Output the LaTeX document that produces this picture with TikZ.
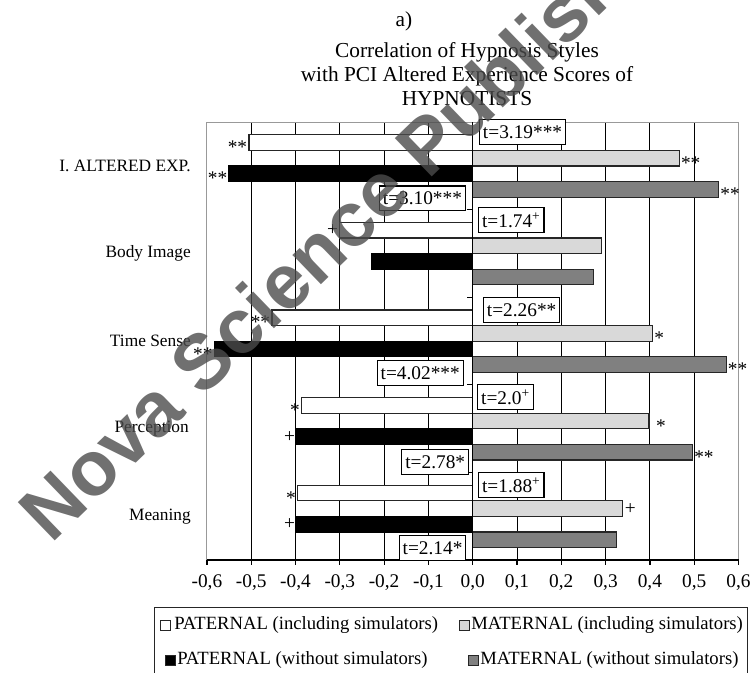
\documentclass[tikz,border=0pt]{standalone}
\usepackage{fontspec}
\setmainfont{Liberation Serif}
\newfontfamily\wmfont{Liberation Sans}
\tikzstyle{gridline} = [black, line width=0.75pt]
\tikzstyle{plotframe} = [draw=black!40, line width=0.75pt]
\tikzstyle{axisline} = [black, line width=0.9pt]
\tikzstyle{whitebar} = [draw=black!85, fill=white, line width=0.9pt]
\tikzstyle{lightbar} = [draw=black!85, fill=black!15, line width=0.9pt]
\tikzstyle{blackbar} = [draw=black, fill=black, line width=0.9pt]
\tikzstyle{darkbar} = [draw=black!85, fill=black!50, line width=0.9pt]
\tikzstyle{tbox} = [rectangle, draw=black, fill=white, line width=0.9pt, inner xsep=2.6pt, inner ysep=0pt, minimum height=18.5pt, font=\fontsize{14.5}{16}\selectfont]
\tikzstyle{sigleft} = [anchor=east, inner sep=1.2pt, font=\fontsize{14.5}{16}\selectfont]
\tikzstyle{sigright} = [anchor=west, inner sep=1.2pt, font=\fontsize{14.5}{16}\selectfont]
\tikzstyle{stars} = [yshift=-3.5pt]
\tikzstyle{category} = [anchor=east, inner sep=0pt, font=\fontsize{13}{15}\selectfont]
\tikzstyle{ticklabel} = [inner sep=0pt, font=\fontsize{14.5}{16}\selectfont]
\tikzstyle{legendtext} = [anchor=west, inner sep=0pt, font=\fontsize{14}{16}\selectfont]
\tikzstyle{legendkey} = [draw=black!85, line width=0.75pt]
\begin{document}
\begin{tikzpicture}[x=0.75pt, y=-0.75pt]
  \useasboundingbox (0,0) rectangle (750,672);
  \clip (0,0) rectangle (750,672);

  \node (part) [font=\fontsize{16}{18}\selectfont] at (404,21) {a)};
  \node (title) [align=center, font=\fontsize{16}{18}\selectfont] at (467,74) {Correlation of Hypnosis Styles\\with PCI Altered Experience Scores of\\HYPNOTISTS};

  \begin{scope}[shift={(472.7,122)}, x=332.25pt]
    \foreach \i in {-5,...,5} \draw [gridline] ({\i/10},0) -- ({\i/10},438);
    \draw [plotframe] (-0.6,0) rectangle (0.6,438);

    \draw [whitebar] (0,12.8) rectangle (-0.505,28.4);
    \draw [lightbar] (0,28.4) rectangle (0.466,44.0);
    \draw [blackbar] (0,44.0) rectangle (-0.55,59.6);
    \draw [darkbar] (0,59.6) rectangle (0.555,75.2);
    \draw [whitebar] (0,100.4) rectangle (-0.30,116.0);
    \draw [lightbar] (0,116.0) rectangle (0.29,131.6);
    \draw [blackbar] (0,131.6) rectangle (-0.228,147.2);
    \draw [darkbar] (0,147.2) rectangle (0.272,162.8);
    \draw [whitebar] (0,188.0) rectangle (-0.453,203.6);
    \draw [lightbar] (0,203.6) rectangle (0.406,219.2);
    \draw [blackbar] (0,219.2) rectangle (-0.583,234.8);
    \draw [darkbar] (0,234.8) rectangle (0.572,250.4);
    \draw [whitebar] (0,275.6) rectangle (-0.386,291.2);
    \draw [lightbar] (0,291.2) rectangle (0.398,306.8);
    \draw [blackbar] (0,306.8) rectangle (-0.397,322.4);
    \draw [darkbar] (0,322.4) rectangle (0.496,338.0);
    \draw [whitebar] (0,363.2) rectangle (-0.395,378.8);
    \draw [lightbar] (0,378.8) rectangle (0.339,394.4);
    \draw [blackbar] (0,394.4) rectangle (-0.397,410.0);
    \draw [darkbar] (0,410.0) rectangle (0.325,425.6);

    \draw [axisline] (0,0) -- (0,438);
    \foreach \k in {1,...,5} \draw [axisline] (0,{87.6*\k}) -- ++(-4.5pt,0);
    \draw [axisline] (-0.6,438) -- (0.6,438);
    \foreach \i in {-6,...,6} \draw [axisline] ({\i/10},438) -- ++(0,5);
    \foreach \i/\lab in {0/{-0,6},1/{-0,5},2/{-0,4},3/{-0,3},4/{-0,2},5/{-0,1},6/{0,0},7/{0,1},8/{0,2},9/{0,3},10/{0,4},11/{0,5},12/{0,6}}
      \node (tick\i) [ticklabel] at ({(\i-6)/10},461) {\lab};

    \node (s1) [sigleft, stars] at (-0.505,20.6) {**};
    \node (s2) [sigright, stars] at (0.466,36.2) {**};
    \node (s3) [sigleft, stars] at (-0.55,51.8) {**};
    \node (s4) [sigright, stars] at (0.555,67.4) {**};
    \node (s5) [sigleft] at (-0.30,108.2) {+};
    \node (s6) [sigleft, stars] at (-0.453,195.8) {**};
    \node (s7) [sigright, stars] at (0.406,211.4) {*};
    \node (s8) [sigleft, stars] at (-0.583,227.0) {**};
    \node (s9) [sigright, stars] at (0.572,242.6) {**};
    \node (s10) [sigleft, stars] at (-0.386,283.4) {*};
    \node (s11) [sigright, stars, xshift=4pt] at (0.398,299.0) {*};
    \node (s12) [sigleft] at (-0.397,314.6) {+};
    \node (s13) [sigright, stars] at (0.496,330.2) {**};
    \node (s14) [sigleft, stars] at (-0.395,371.0) {*};
    \node (s15) [sigright] at (0.339,386.6) {+};
    \node (s16) [sigleft] at (-0.397,402.2) {+};

    \node (t1) [tbox, anchor=west] at (0.014,9.8) {t=3.19***};
    \node (t2) [tbox, anchor=east] at (-0.015,76.3) {t=3.10***};
    \node (t3) [tbox, anchor=west] at (0.012,98.0) {t=1.74\textsuperscript{+}};
    \node (t4) [tbox, anchor=west] at (0.023,188.0) {t=2.26**};
    \node (t5) [tbox, anchor=east] at (-0.02,251.0) {t=4.02***};
    \node (t6) [tbox, anchor=west] at (0.01,275.0) {t=2.0\textsuperscript{+}};
    \node (t7) [tbox, anchor=east] at (-0.008,340.0) {t=2.78*};
    \node (t8) [tbox, anchor=west] at (0.012,363.0) {t=1.88\textsuperscript{+}};
    \node (t9) [tbox, anchor=east] at (-0.014,426.0) {t=2.14*};
  \end{scope}

  \node (cat1) [category] at (191,165.8) {I. ALTERED EXP.};
  \node (cat2) [category] at (191,253.4) {Body Image};
  \node (cat3) [category] at (191,341.0) {Time Sense};
  \node (cat4) [category] at (189,428.6) {Perception};
  \node (cat5) [category] at (191,516.2) {Meaning};

  \draw [draw=black!85, line width=0.75pt] (154,607) rectangle (747,700);
  \draw [legendkey, fill=white] (160,620) rectangle ++(10,10);
  \node (leg1) [legendtext] at (174,625) {PATERNAL (including simulators)};
  \draw [legendkey, fill=black!15] (459,620) rectangle ++(10,10);
  \node (leg2) [legendtext] at (471,625) {MATERNAL (including simulators)};
  \draw [legendkey, fill=black] (165,655) rectangle ++(10,10);
  \node (leg3) [legendtext] at (177,660) {PATERNAL (without simulators)};
  \draw [legendkey, fill=black!50] (468,655) rectangle ++(10,10);
  \node (leg4) [legendtext] at (480,660) {MATERNAL (without simulators)};

  \node (watermark) [rotate=44, anchor=base west, text=black!70, text opacity=0.8, font=\wmfont\fontsize{58}{58}\bfseries\selectfont] at (48,548) {Nova Science Publishers};
\end{tikzpicture}
\end{document}
